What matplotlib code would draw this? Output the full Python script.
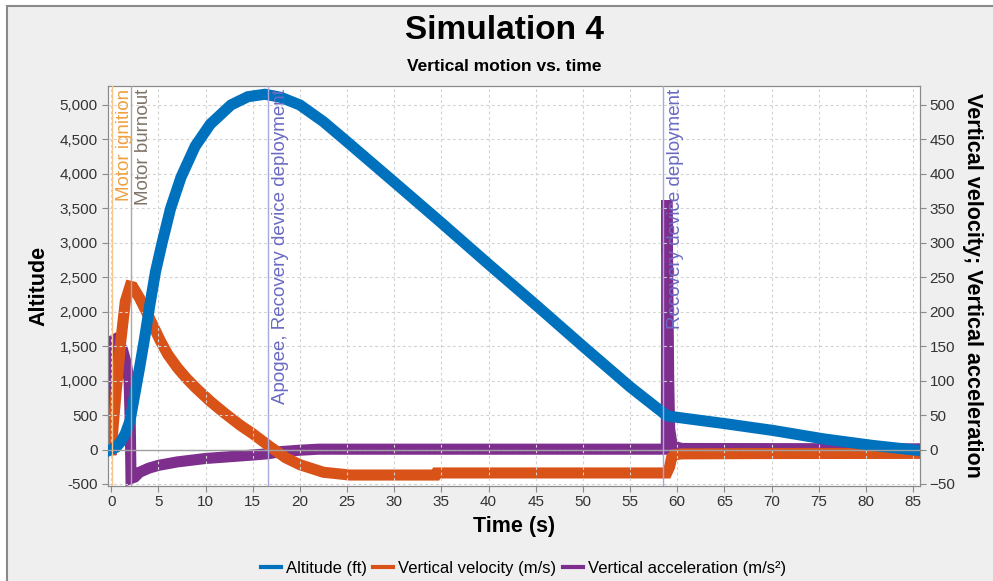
import matplotlib
matplotlib.use('Agg')
import matplotlib.pyplot as plt
from matplotlib.lines import Line2D
from matplotlib.patches import Rectangle
from matplotlib.ticker import FuncFormatter, MultipleLocator
import matplotlib.transforms as mtransforms

plt.rcParams['font.family'] = ['Liberation Sans', 'DejaVu Sans']

# Altitude (ft) vs time (s)
t_alt = [0, 0.5, 1.0, 1.5, 2.0, 2.5, 3.0, 3.5, 4.1, 4.7, 5.4, 6.3, 7.4, 8.9, 10.5, 12.7,
         14.5, 16.3, 18.0, 20.0, 22.5, 25.0, 30, 35, 40, 45, 50, 55, 58.9, 59.3,
         65.2, 70.2, 75.5, 80.8, 85.4]
altitude = [0, 30, 110, 230, 420, 800, 1180, 1580, 2100, 2580, 3000, 3500, 3950, 4400, 4720, 5000,
            5120, 5155, 5110, 5000, 4757, 4467, 3880, 3290, 2690, 2100, 1500, 910, 490, 480,
            373, 276, 155, 58, -10]

# Vertical velocity (m/s)
t_vel = [0, 0.5, 1.0, 1.5, 2.0, 2.3, 3.0, 3.8, 4.5, 5.2, 6.0, 7.0, 8.0, 9.0, 10.5, 12.0, 13.7,
         15.0, 16.85, 18.5, 20.0, 22.5, 25.3, 34.4, 34.5, 58.9, 59.2, 59.4, 59.7, 60.5,
         70, 85.4]
velocity = [0, 80, 155, 215, 237, 236, 220, 198, 178, 158, 138, 119, 103, 89, 70, 53, 35,
            23, 4, -12, -22, -33, -37, -37, -34, -34, -25, -12, -7.5, -6.3,
            -5.8, -5.6]

# Vertical acceleration (m/s²)
t_acc = [0, 0.02, 0.4, 0.8, 1.2, 1.6, 1.9, 2.02, 2.1, 2.5, 3.0, 4.0, 5.0, 7.0, 10.0,
         13.0, 15.0, 16.7, 18.0, 20.0, 22.0, 58.85, 58.9, 59.0, 59.1, 59.2, 59.4,
         59.8, 60.5, 85.4]
acceleration = [0, 157, 160, 155, 145, 125, 100, 40, -42, -40, -33, -27, -23, -18, -13,
                -10, -8, -6, -3, -1, 0.5, 0.5, 362, 250, 100, 30, 12, 4, 1.5, 1]

events = [
    (0.05, 'Motor ignition', '#f7c48a', '#f0a040'),
    (2.08, 'Motor burnout', '#b0a8a0', '#807468'),
    (16.64, 'Apogee, Recovery device deployment', '#a8a8dc', '#6a6ac4'),
    (58.5, 'Recovery device deployment', '#a8a8dc', '#6a6ac4'),
]

c_alt = '#0072bd'
c_vel = '#d95319'
c_acc = '#7e2f8e'

fig = plt.figure(figsize=(9.93, 5.81), dpi=100)
fig.patch.set_facecolor('white')
fig.patches.append(Rectangle((7 / 993, -0.1), 1.1, 1.1 - 6 / 581, transform=fig.transFigure,
                             facecolor='#efefef', edgecolor='#8a8a8a', lw=1.5, zorder=-10))

ax = fig.add_axes([107.5 / 993, 1 - 485.5 / 581, (920 - 107.5) / 993, (485.5 - 86) / 581])
ax2 = ax.twinx()
ax.set_zorder(ax2.get_zorder() + 1)
ax.patch.set_visible(False)
ax2.patch.set_visible(True)
ax2.patch.set_facecolor('white')

lw = 8.0
ax2.plot(t_acc, acceleration, color=c_acc, lw=lw, solid_joinstyle='miter', zorder=2)
ax2.plot(t_vel, velocity, color=c_vel, lw=lw, solid_joinstyle='miter', zorder=3)
ax.plot(t_alt, altitude, color=c_alt, lw=lw, solid_joinstyle='miter', zorder=3)

ax.set_xlim(-0.39, 85.74)
ax.set_ylim(-522, 5275)
ax2.set_ylim(-52.2, 527.5)

ax.xaxis.set_major_locator(MultipleLocator(5))
ax.yaxis.set_major_locator(MultipleLocator(500))
ax2.yaxis.set_major_locator(MultipleLocator(50))
ax.yaxis.set_major_formatter(FuncFormatter(lambda v, p: f'{int(v):,}'))

ax.grid(True, color='#d2d2d2', lw=0.8, ls=(0, (2.5, 2.5)), zorder=0)
ax.set_axisbelow(False)
for gl in ax.get_xgridlines() + ax.get_ygridlines():
    gl.set_zorder(0.5)

ax.axhline(0, color='#a0a0a0', lw=1.0, zorder=5)

for t, label, lc, tc in events:
    ax.axvline(t, color=lc, lw=1.0, zorder=6)
    trans = mtransforms.offset_copy(ax.get_xaxis_transform(), fig=fig, x=3, y=-2, units='points')
    ax.text(t, 1.0, label, rotation=90, ha='left', va='top', color=tc, fontsize=13.5,
            transform=trans, zorder=7, clip_on=True)

for a in (ax, ax2):
    for s in a.spines.values():
        s.set_color('#8a8a8a')
    a.tick_params(colors='#8a8a8a', labelcolor='#333333', labelsize=11, length=4, width=0.8,
                  pad=3)

ax.set_xlabel('Time (s)', fontsize=15.5, fontweight='bold', labelpad=5)
ax.set_ylabel('Altitude', fontsize=15.5, fontweight='bold', labelpad=7)
ax2.set_ylabel('Vertical velocity; Vertical acceleration', fontsize=15.5, fontweight='bold',
               rotation=270, labelpad=20)

fig.text(0.508, 0.947, 'Simulation 4', ha='center', va='center', fontsize=24, fontweight='bold')
fig.text(0.508, 0.885, 'Vertical motion vs. time', ha='center', va='center', fontsize=12.5,
         fontweight='bold')

handles = [Line2D([], [], color=c, lw=3) for c in (c_alt, c_vel, c_acc)]
fig.legend(handles, ['Altitude (ft)', 'Vertical velocity (m/s)', 'Vertical acceleration (m/s²)'],
           loc='center', bbox_to_anchor=(0.527, 0.022), ncol=3, frameon=False, fontsize=12,
           handlelength=1.2, handletextpad=0.3, columnspacing=0.4)

fig.savefig('out.png', dpi=100)
